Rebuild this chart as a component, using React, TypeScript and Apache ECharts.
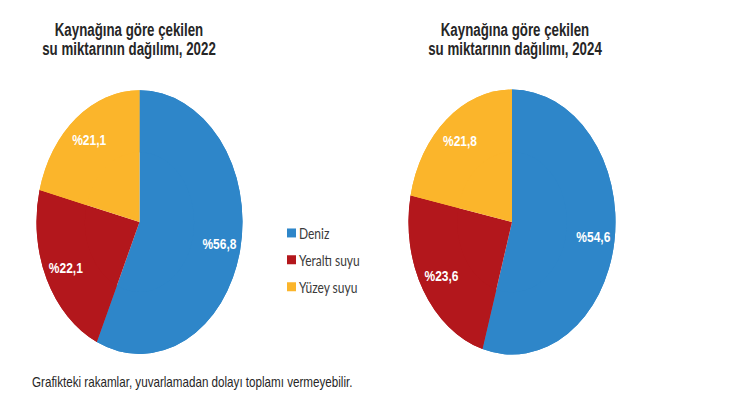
import { useEffect, useRef } from 'react'
import * as echarts from 'echarts'

// ===== data =====
const categories = ['Deniz', 'Yeraltı suyu', 'Yüzey suyu']
const values2022 = [56.8, 22.1, 21.1]
const values2024 = [54.6, 23.6, 21.8]
const colors = ['#2E86C9', '#B3171C', '#FBB52B']
const titles = [
  'Kaynağına göre çekilen\nsu miktarının dağılımı, 2022',
  'Kaynağına göre çekilen\nsu miktarının dağılımı, 2024',
]
const footnote = 'Grafikteki rakamlar, yuvarlamadan dolayı toplamı vermeyebilir.'

// reference image is stretched vertically, so the whole chart is scaled in Y
const SY = 1.28
const W = 740
const H = Math.round(420 / SY)

const sans = '"Liberation Sans", Arial, sans-serif'

function fmt(v: number) {
  return '%' + v.toFixed(1).replace('.', ',')
}

function pieSeries(values: number[], cx: number, cy: number, r: number) {
  const data = categories.map((name, i) => ({
    name,
    value: values[i],
    itemStyle: { color: colors[i] },
  }))
  return [
    {
      type: 'pie',
      center: [cx, cy],
      radius: [0, r],
      startAngle: 90,
      data,
      label: { show: false },
      labelLine: { show: false },
      emphasis: { disabled: true },
    },
    {
      // overlay ring, only there to place the labels further out
      type: 'pie',
      center: [cx, cy],
      radius: [r * 0.53, r],
      startAngle: 90,
      silent: true,
      data,
      label: {
        show: true,
        position: 'inside',
        formatter: (p: { value: number }) => fmt(p.value),
        color: '#ffffff',
        fontFamily: sans,
        fontWeight: 'bold',
        fontSize: 12,
      },
      labelLine: { show: false },
      emphasis: { disabled: true },
    },
  ]
}

function titleText(text: string, x: number) {
  return {
    type: 'text',
    x,
    y: 31,
    scaleX: 0.95,
    style: {
      text,
      textAlign: 'center',
      textVerticalAlign: 'middle',
      fontFamily: sans,
      fontWeight: 'bold',
      fontSize: 14,
      lineHeight: 14.8,
      fill: '#262626',
    },
  }
}

export default function App() {
  const ref = useRef<HTMLDivElement>(null)

  useEffect(() => {
    if (!ref.current) return
    const chart = echarts.init(ref.current, null, { renderer: 'svg' })
    const option: echarts.EChartsOption = {
      animation: false,
      backgroundColor: '#ffffff',
      legend: {
        data: categories,
        orient: 'vertical',
        left: 282,
        top: 171,
        itemWidth: 9,
        itemHeight: 7,
        itemGap: 9,
        icon: 'rect',
        textStyle: { fontFamily: 'Lato, "Open Sans", sans-serif', fontSize: 12, color: '#3a3a3a', padding: [0, 0, 0, -2] },
      },
      graphic: [
        titleText(titles[0], 129),
        titleText(titles[1], 515),
        {
          type: 'text',
          x: 32,
          y: 298,
          scaleX: 0.97,
          style: {
            text: footnote,
            textVerticalAlign: 'middle',
            fontFamily: sans,
            fontSize: 12,
            fill: '#262626',
          },
        },
      ] as echarts.GraphicComponentOption[],
      series: [
        ...pieSeries(values2022, 139.5, 173.5, 103),
        ...pieSeries(values2024, 512, 173.5, 103.5),
      ] as echarts.SeriesOption[],
    }
    chart.setOption(option)
    return () => chart.dispose()
  }, [])

  return (
    <div style={{ position: 'fixed', left: 0, top: 0, width: W, height: 420, overflow: 'hidden', background: '#fff' }}>
      <div
        ref={ref}
        style={{ width: W, height: H, transform: `scaleY(${SY})`, transformOrigin: '0 0' }}
      />
    </div>
  )
}
